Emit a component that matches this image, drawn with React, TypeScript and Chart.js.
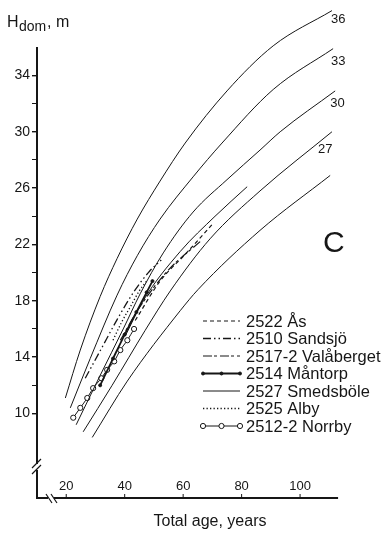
import React, { useEffect, useRef } from 'react';
import { Chart, registerables } from 'chart.js';

Chart.register(...registerables);

// ---- data (age in years, dominant height in m) ----
const siteLabels = ['36', '33', '30', '27', ''];
const curve36 = [[19.7, 11.1], [24.8, 14.5], [31.6, 18.3], [37.4, 21.0], [44.3, 23.8], [52.1, 26.5], [60.7, 29.2], [75.0, 32.9], [90.8, 36.1], [110.9, 38.6]];
const curve33 = [[21.4, 10.4], [28.2, 13.9], [37.4, 18.4], [44.3, 21.2], [52.1, 23.8], [63.4, 26.8], [73.3, 29.2], [90.8, 33.0], [111.3, 35.9]];
const curve30 = [[23.4, 9.2], [31.6, 12.7], [39.5, 16.0], [45.3, 18.5], [53.2, 21.4], [63.4, 24.3], [75.0, 26.6], [86.3, 28.7], [93.2, 30.0], [112.0, 32.9]];
const curve27 = [[25.8, 8.7], [35.7, 12.0], [47.0, 15.9], [55.6, 18.7], [69.2, 22.4], [86.3, 25.8], [110.9, 30.0]];
const curve24 = [[28.9, 8.3], [40.9, 12.3], [59.0, 17.3], [65.1, 18.8], [86.3, 23.0], [110.3, 26.9]];

const seriesNames = ['2522 Ås', '2510 Sandsjö', '2517-2 Valåberget', '2514 Måntorp', '2527 Smedsböle', '2525 Alby', '2512-2 Norrby'];
const asData = [[43.6, 16.6], [52.1, 19.4], [60.7, 21.3], [70.3, 23.5]];
const sandsjoData = [[26.5, 12.5], [32.0, 14.6], [37.5, 16.7], [43.0, 18.6], [48.5, 20.1], [52.5, 20.9]];
const valabergetData = [[38.5, 15.2], [45.3, 17.6], [55.0, 20.2], [65.8, 22.2]];
const mantorpData = [[31.6, 12.0], [36.0, 13.9], [40.0, 15.6], [44.0, 17.2], [47.5, 18.6], [49.5, 19.4]];
const smedsboleData = [[40.2, 15.5], [46.3, 18.0], [59.0, 21.5], [70.9, 24.0], [81.9, 26.1]];
const albyData = [[36.0, 15.2], [39.0, 16.5], [42.0, 17.6], [45.0, 18.7], [47.5, 19.4]];
const norrbyData = [[22.4, 9.7], [24.8, 10.4], [27.2, 11.1], [29.2, 11.8], [32.0, 12.5], [34.0, 13.1], [36.4, 13.7], [38.5, 14.5], [40.9, 15.2], [43.2, 16.0]];

const xTicks = [20, 40, 60, 80, 100];
const yLabelTicks = [10, 14, 18, 22, 26, 30, 34];

// ---- styles ----
const FONT = '"Liberation Sans", Arial, Helvetica, sans-serif';
const INK = '#161616';
const labelOffsets = [[-1, 9], [-2, 13], [-5, 12], [-14, 18]];

const toXY = (arr: number[][]) => arr.map(([x, y]) => ({ x, y }));

const seriesStyles = [
  { dash: [4, 3], width: 1.2, radius: 0, fill: INK },
  { dash: [8, 3, 1.5, 3, 1.5, 3], width: 1.3, radius: 0, fill: INK },
  { dash: [9, 2, 3, 3], width: 1.2, radius: 0, fill: INK },
  { dash: [], width: 1.8, radius: 1.5, fill: INK },
  { dash: [], width: 1.0, radius: 0, fill: INK },
  { dash: [1.3, 2.2], width: 1.3, radius: 0, fill: INK },
  { dash: [], width: 1.0, radius: 2.6, fill: '#ffffff' },
];
const seriesData = [asData, sandsjoData, valabergetData, mantorpData, smedsboleData, albyData, norrbyData];

const decor = {
  id: 'decor',
  afterDraw(chart: any) {
    const { ctx, scales } = chart;
    const xs = scales.x, ys = scales.y;
    const axisX = xs.getPixelForValue(10);
    const axisY = ys.getPixelForValue(4);
    ctx.save();
    ctx.strokeStyle = INK;
    ctx.fillStyle = INK;
    ctx.setLineDash([]);
    // y axis with break
    ctx.lineWidth = 2;
    ctx.beginPath();
    ctx.moveTo(axisX, 47);
    ctx.lineTo(axisX, 464);
    ctx.moveTo(axisX, 470);
    ctx.lineTo(axisX, axisY);
    ctx.stroke();
    ctx.lineWidth = 1.2;
    ctx.beginPath();
    ctx.moveTo(axisX - 5, 468); ctx.lineTo(axisX + 4, 459);
    ctx.moveTo(axisX - 5, 474); ctx.lineTo(axisX + 4, 465);
    ctx.stroke();
    // x axis with break
    ctx.lineWidth = 2;
    ctx.beginPath();
    ctx.moveTo(axisX - 1, axisY);
    ctx.lineTo(48, axisY);
    ctx.moveTo(54, axisY);
    ctx.lineTo(xs.getPixelForValue(113), axisY);
    ctx.stroke();
    ctx.lineWidth = 1.2;
    ctx.beginPath();
    ctx.moveTo(46, axisY - 4); ctx.lineTo(52, axisY + 5);
    ctx.moveTo(51, axisY - 4); ctx.lineTo(57, axisY + 5);
    ctx.stroke();
    // x ticks and labels (inside, above the axis)
    ctx.lineWidth = 1;
    ctx.font = `13px ${FONT}`;
    ctx.textAlign = 'center';
    ctx.textBaseline = 'middle';
    xTicks.forEach((v) => {
      const px = xs.getPixelForValue(v);
      ctx.beginPath();
      ctx.moveTo(px, axisY - 4);
      ctx.lineTo(px, axisY);
      ctx.stroke();
      ctx.fillText(String(v), px, axisY - 12);
    });
    // axis titles
    ctx.textAlign = 'left';
    ctx.textBaseline = 'alphabetic';
    ctx.font = `16px ${FONT}`;
    ctx.fillText('H', 7, 27);
    ctx.font = `14px ${FONT}`;
    ctx.fillText('dom', 19, 31);
    ctx.font = `16px ${FONT}`;
    ctx.fillText(', m', 47, 27);
    ctx.textAlign = 'center';
    ctx.fillText('Total age, years', 210, 526);
    // panel letter
    ctx.font = `30px ${FONT}`;
    ctx.textAlign = 'left';
    ctx.fillText('C', 323, 252);
    // site index labels at curve ends
    ctx.font = `13px ${FONT}`;
    ctx.textBaseline = 'middle';
    for (let i = 0; i < siteLabels.length; i++) {
      if (!siteLabels[i]) continue;
      const meta = chart.getDatasetMeta(i);
      const last = meta.data[meta.data.length - 1];
      const [dx, dy] = labelOffsets[i];
      ctx.fillText(siteLabels[i], last.x + dx, last.y + dy);
    }
    // legend
    const lx0 = 203, lx1 = 240, ly0 = 321, step = 17.5;
    ctx.font = `16.5px ${FONT}`;
    ctx.textBaseline = 'middle';
    seriesNames.forEach((name, i) => {
      const st = seriesStyles[i];
      const y = ly0 + i * step;
      ctx.lineWidth = st.width;
      ctx.setLineDash(st.dash);
      ctx.beginPath();
      ctx.moveTo(lx0, y);
      ctx.lineTo(lx1, y);
      ctx.stroke();
      ctx.setLineDash([]);
      if (st.radius > 0) {
        [lx0, (lx0 + lx1) / 2, lx1].forEach((mx) => {
          ctx.beginPath();
          ctx.arc(mx, y, st.radius, 0, Math.PI * 2);
          ctx.fillStyle = st.fill;
          ctx.fill();
          ctx.lineWidth = 1;
          ctx.stroke();
        });
      }
      ctx.fillStyle = INK;
      ctx.textAlign = 'left';
      ctx.fillText(name, 246, y + 1);
    });
    ctx.restore();
  },
};

export default function App() {
  const ref = useRef<HTMLCanvasElement | null>(null);
  useEffect(() => {
    if (!ref.current) return;
    const curves = [curve36, curve33, curve30, curve27, curve24];
    const datasets: any[] = [];
    curves.forEach((c, i) => {
      datasets.push({
        label: siteLabels[i] || '24',
        data: toXY(c),
        showLine: true,
        borderColor: INK,
        borderWidth: 1,
        pointRadius: 0,
        cubicInterpolationMode: 'monotone',
      });
    });
    seriesData.forEach((d, i) => {
      const st = seriesStyles[i];
      datasets.push({
        label: seriesNames[i],
        data: toXY(d),
        showLine: true,
        borderColor: INK,
        borderWidth: st.width,
        borderDash: st.dash,
        pointRadius: st.radius,
        pointBackgroundColor: st.fill,
        pointBorderColor: INK,
        pointBorderWidth: 1,
        cubicInterpolationMode: 'monotone',
      });
    });
    const chart = new Chart(ref.current, {
      type: 'scatter',
      data: { datasets },
      options: {
        responsive: false,
        animation: false,
        events: [],
        layout: { padding: { top: 2, right: 47, bottom: 0, left: 0 } },
        plugins: { legend: { display: false }, tooltip: { enabled: false } },
        scales: {
          x: {
            type: 'linear',
            min: 10,
            max: 114,
            position: 'bottom',
            grid: { display: false },
            border: { display: false },
            ticks: { display: false },
            afterFit: (s: any) => { s.height = 38; s.paddingLeft = 0; s.paddingRight = 0; },
          },
          y: {
            type: 'linear',
            min: 4,
            max: 39,
            position: 'left',
            border: { display: false },
            grid: {
              drawOnChartArea: false,
              drawTicks: true,
              tickLength: 5,
              color: (c: any) => {
                const v = c.tick ? c.tick.value : 0;
                return v >= 10 && v <= 34 ? INK : 'rgba(0,0,0,0)';
              },
              lineWidth: (c: any) => {
                const v = c.tick ? c.tick.value : 0;
                return yLabelTicks.includes(v) ? 1.4 : 1;
              },
            },
            ticks: {
              stepSize: 2,
              autoSkip: false,
              padding: 2,
              color: INK,
              font: { family: FONT, size: 14 },
              callback: (v: any) => (yLabelTicks.includes(Number(v)) ? String(v) : ''),
            },
            afterFit: (s: any) => { s.width = 37; s.paddingTop = 0; s.paddingBottom = 0; },
          },
        },
      },
      plugins: [decor],
    });
    return () => chart.destroy();
  }, []);
  return (
    <div style={{ position: 'absolute', left: 0, top: 0, width: 388, height: 536, background: '#fff' }}>
      <canvas ref={ref} width={388} height={536} style={{ width: 388, height: 536 }} />
    </div>
  );
}
